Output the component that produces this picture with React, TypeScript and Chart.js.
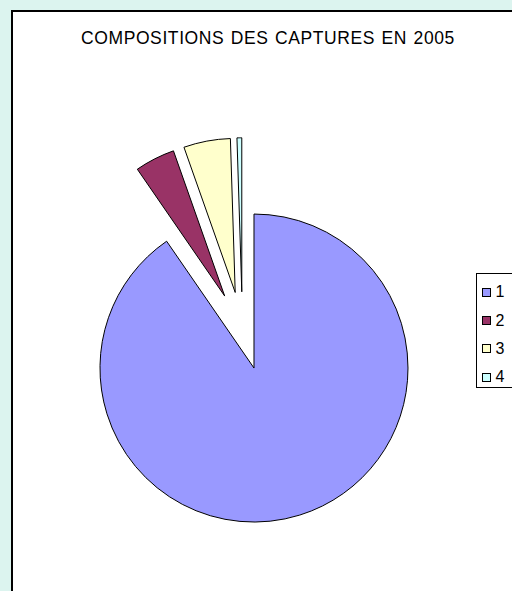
import React, { useEffect, useRef } from 'react';
import { Chart, registerables } from 'chart.js';

Chart.register(...registerables);

const TITLE = 'COMPOSITIONS DES CAPTURES EN 2005';
const CATEGORIES = ['1', '2', '3', '4'];
const VALUES = [90.4, 4.2, 4.9, 0.5];
const COLORS = ['#9999FF', '#993366', '#FFFFCC', '#CCFFFF'];

const W = 512;
const H = 591;
const CENTER_X = 242.4;
const CENTER_Y = 330.8;
const RADIUS = 154;
const EXPLODE = 39;

const explodePlugin = {
  id: 'explodeSlices',
  afterDatasetsUpdate(chart: any) {
    chart.getSortedVisibleDatasetMetas().forEach((meta: any) => {
      meta.data.forEach((arc: any) => {
        const mid = (arc.startAngle + arc.endAngle) / 2;
        arc.x += Math.cos(mid) * EXPLODE;
        arc.y += Math.sin(mid) * EXPLODE;
      });
    });
  },
};

export default function App() {
  const ref = useRef<HTMLCanvasElement | null>(null);

  useEffect(() => {
    if (!ref.current) return;
    const chart = new Chart(ref.current, {
      type: 'pie',
      data: {
        labels: CATEGORIES,
        datasets: [
          {
            data: VALUES,
            backgroundColor: COLORS,
            borderColor: '#000000',
            borderWidth: 1,
            radius: RADIUS,
            clip: false,
          } as any,
        ],
      },
      options: {
        responsive: false,
        animation: false,
        events: [],
        layout: {
          padding: {
            left: 0,
            right: 2 * (W / 2 - CENTER_X),
            top: 2 * (CENTER_Y - H / 2),
            bottom: 0,
          },
        },
        plugins: {
          legend: { display: false },
          title: { display: false },
          tooltip: { enabled: false },
        },
      } as any,
      plugins: [explodePlugin],
    });
    return () => chart.destroy();
  }, []);

  const font = '"Liberation Sans", Arial, sans-serif';

  return (
    <div
      style={{
        position: 'fixed',
        left: 0,
        top: 0,
        width: W,
        height: H,
        overflow: 'hidden',
        background: '#DCF4EF',
        fontFamily: font,
      }}
    >
      <div
        style={{
          position: 'absolute',
          left: 11,
          top: 10,
          width: 560,
          height: 640,
          background: '#FFFFFF',
          borderLeft: '2px solid #000',
          borderTop: '2px solid #000',
          boxSizing: 'border-box',
        }}
      />
      <div
        style={{
          position: 'absolute',
          left: 81,
          top: 30.2,
          fontSize: 17.5,
          lineHeight: 1,
          letterSpacing: 0.6,
          wordSpacing: 1,
          whiteSpace: 'nowrap',
          color: '#000',
        }}
      >
        {TITLE}
      </div>
      <canvas
        ref={ref}
        width={W}
        height={H}
        style={{ position: 'absolute', left: 0, top: 0, width: W, height: H }}
      />
      <div
        style={{
          position: 'absolute',
          left: 476,
          top: 273,
          width: 80,
          height: 115,
          border: '1px solid #000',
          boxSizing: 'border-box',
          background: '#FFFFFF',
        }}
      />
      {CATEGORIES.map((c, i) => {
        const cy = 292 + i * 28.4;
        return (
          <React.Fragment key={c}>
            <div
              style={{
                position: 'absolute',
                left: 482,
                top: cy - 4.5,
                width: 9,
                height: 9,
                boxSizing: 'border-box',
                border: '1px solid #000',
                background: COLORS[i],
              }}
            />
            <div
              style={{
                position: 'absolute',
                left: 495.5,
                top: cy + 5.7 - 13.5,
                fontSize: 16,
                lineHeight: 1,
                color: '#000',
              }}
            >
              {c}
            </div>
          </React.Fragment>
        );
      })}
    </div>
  );
}
